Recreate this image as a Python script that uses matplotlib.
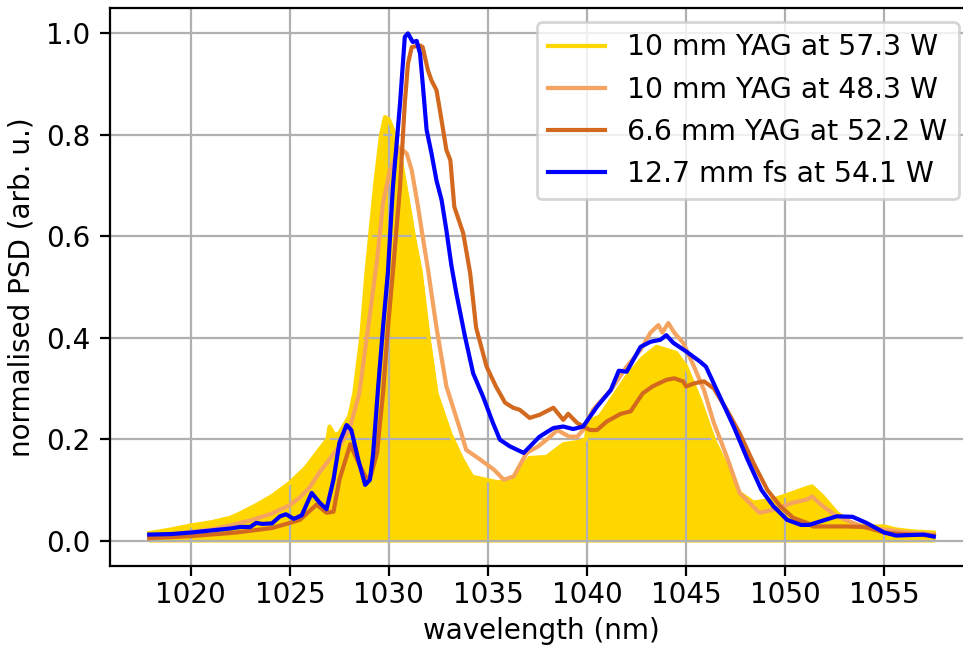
import matplotlib
matplotlib.use("Agg")
import matplotlib.pyplot as plt

# 10 mm YAG at 57.3 W
wl_yag10_573 = [1017.9, 1019, 1020, 1021, 1022, 1022.5, 1023.3, 1024.1, 1025.0, 1025.8,
                1026.5, 1026.9, 1027.0, 1027.25, 1027.5, 1028.0, 1028.25, 1028.6, 1028.87,
                1029.3, 1029.6, 1029.8, 1030.0, 1030.2, 1030.56, 1031.0, 1031.3, 1031.6,
                1032.0, 1032.4, 1033.1, 1033.7, 1034.2, 1034.9, 1035.5, 1036.2, 1036.6,
                1037.1, 1037.96, 1038.8, 1039.6, 1039.95, 1040.05, 1040.65, 1041.2, 1042.0,
                1042.8, 1043.5, 1044.0, 1044.5, 1045.0, 1045.7, 1046.4, 1047.05, 1047.7,
                1048.4, 1049.4, 1050.1, 1050.8, 1051.1, 1051.35, 1051.9, 1052.6, 1053.3,
                1054.0, 1055.0, 1055.6, 1056.5, 1057.5]
psd_yag10_573 = [0.015, 0.022, 0.03, 0.036, 0.045, 0.054, 0.07, 0.088, 0.114, 0.144,
                 0.18, 0.2, 0.225, 0.208, 0.212, 0.245, 0.29, 0.40, 0.53,
                 0.70, 0.80, 0.835, 0.83, 0.81, 0.76, 0.66, 0.59, 0.53,
                 0.40, 0.29, 0.21, 0.16, 0.126, 0.12, 0.115, 0.12, 0.14,
                 0.163, 0.165, 0.19, 0.195, 0.2, 0.235, 0.245, 0.277, 0.323,
                 0.36, 0.382, 0.376, 0.37, 0.343, 0.277, 0.199, 0.146, 0.094,
                 0.075, 0.081, 0.09, 0.10, 0.104, 0.107, 0.087, 0.055, 0.035,
                 0.028, 0.028, 0.022, 0.018, 0.016]

# 10 mm YAG at 48.3 W
wl_yag10_483 = [1017.9, 1019, 1020, 1021, 1022, 1023, 1024, 1025, 1025.5, 1026.0,
                1026.5, 1026.8, 1027.5, 1028.0, 1028.5, 1028.95, 1029.4, 1029.7, 1030.05,
                1030.46, 1030.6, 1030.9, 1031.15, 1031.47, 1031.7, 1031.97, 1032.4, 1032.9,
                1033.6, 1033.9, 1034.6, 1035.3, 1035.8, 1036.3, 1036.95, 1037.5, 1037.96,
                1038.5, 1039.1, 1039.5, 1039.8, 1040.3, 1041.2, 1042.0, 1042.7, 1043.2,
                1043.6, 1043.8, 1044.1, 1044.4, 1044.85, 1045.4, 1045.9, 1046.4, 1047.05,
                1047.7, 1048.7, 1049.4, 1050.4, 1051.1, 1051.35, 1051.9, 1052.6, 1054.0,
                1055.0, 1056.0, 1057.5]
psd_yag10_483 = [0.008, 0.012, 0.017, 0.022, 0.03, 0.04, 0.052, 0.07, 0.085, 0.105,
                 0.135, 0.15, 0.186, 0.218, 0.29, 0.42, 0.553, 0.665, 0.73,
                 0.77, 0.773, 0.763, 0.73, 0.658, 0.6, 0.535, 0.42, 0.304,
                 0.218, 0.179, 0.16, 0.14, 0.12, 0.127, 0.173, 0.185, 0.199,
                 0.218, 0.205, 0.205, 0.218, 0.258, 0.297, 0.343, 0.376, 0.41,
                 0.425, 0.41, 0.429, 0.41, 0.39, 0.343, 0.297, 0.232, 0.166,
                 0.094, 0.055, 0.061, 0.075, 0.081, 0.087, 0.068, 0.048, 0.026,
                 0.022, 0.017, 0.012]

# 6.6 mm YAG at 52.2 W
wl_yag66_522 = [1017.9, 1019, 1020, 1021, 1022, 1022.5, 1023.5, 1024.1, 1025.0, 1025.5,
                1026.35, 1026.85, 1027.2, 1027.5, 1028.05, 1028.5, 1028.9, 1029.1, 1029.4,
                1029.7, 1029.95, 1030.2, 1030.56, 1030.8, 1030.96, 1031.15, 1031.57, 1031.7,
                1031.97, 1032.15, 1032.4, 1032.6, 1032.9, 1033.1, 1033.3, 1033.75, 1034.1,
                1034.4, 1034.93, 1035.4, 1035.86, 1036.27, 1036.6, 1037.1, 1037.6, 1038.3,
                1038.8, 1039.05, 1039.5, 1040.15, 1040.5, 1041.0, 1041.7, 1042.2, 1042.8,
                1043.3, 1044.0, 1044.4, 1044.85, 1045.0, 1045.4, 1045.9, 1046.4, 1047.05,
                1047.7, 1048.4, 1049.1, 1049.75, 1050.4, 1051.1, 1051.4, 1053.1, 1054.0,
                1055.0, 1056.0, 1057.5]
psd_yag66_522 = [0.005, 0.007, 0.009, 0.012, 0.015, 0.017, 0.022, 0.025, 0.035, 0.041,
                 0.071, 0.055, 0.057, 0.12, 0.19, 0.15, 0.12, 0.13, 0.173,
                 0.29, 0.42, 0.53, 0.697, 0.862, 0.94, 0.973, 0.976, 0.973,
                 0.927, 0.907, 0.888, 0.842, 0.77, 0.75, 0.658, 0.606, 0.527,
                 0.42, 0.343, 0.304, 0.272, 0.262, 0.258, 0.242, 0.248, 0.262,
                 0.238, 0.25, 0.232, 0.218, 0.218, 0.235, 0.25, 0.255, 0.29,
                 0.304, 0.317, 0.32, 0.314, 0.304, 0.31, 0.314, 0.30, 0.258,
                 0.212, 0.153, 0.10, 0.068, 0.045, 0.035, 0.028, 0.028, 0.027,
                 0.016, 0.013, 0.01]

# 12.7 mm fs at 54.1 W
wl_fs127_541 = [1017.9, 1019, 1020, 1021, 1022, 1022.5, 1023.0, 1023.3, 1023.6, 1024.1,
                1024.5, 1024.8, 1025.2, 1025.6, 1026.1, 1026.5, 1026.85, 1027.2, 1027.5,
                1027.86, 1028.1, 1028.45, 1028.8, 1029.04, 1029.2, 1029.45, 1029.7, 1029.95,
                1030.2, 1030.56, 1030.8, 1030.96, 1031.2, 1031.4, 1031.57, 1031.72, 1031.9,
                1032.15, 1032.4, 1032.66, 1032.9, 1033.15, 1033.4, 1033.84, 1034.25, 1034.75,
                1035.25, 1035.6, 1036.1, 1036.8, 1037.6, 1038.3, 1038.8, 1039.3, 1039.8,
                1040.5, 1041.2, 1041.6, 1042.0, 1042.7, 1043.2, 1043.7, 1044.0, 1044.35,
                1045.0, 1045.7, 1046.0, 1046.7, 1047.4, 1048.1, 1048.8, 1049.4, 1050.1,
                1050.8, 1051.2, 1052.6, 1053.4, 1054.1, 1055.0, 1055.6, 1057.0, 1057.5]
psd_fs127_541 = [0.012, 0.013, 0.016, 0.02, 0.024, 0.027, 0.027, 0.035, 0.033, 0.034,
                 0.048, 0.052, 0.043, 0.05, 0.094, 0.075, 0.062, 0.12, 0.193,
                 0.228, 0.218, 0.16, 0.11, 0.12, 0.17, 0.30, 0.42, 0.53,
                 0.697, 0.862, 0.993, 1.0, 0.983, 0.985, 0.96, 0.894, 0.81,
                 0.763, 0.71, 0.671, 0.612, 0.543, 0.488, 0.402, 0.33, 0.284,
                 0.232, 0.199, 0.186, 0.173, 0.205, 0.222, 0.225, 0.22, 0.225,
                 0.264, 0.297, 0.335, 0.333, 0.382, 0.392, 0.396, 0.405, 0.39,
                 0.373, 0.353, 0.343, 0.284, 0.225, 0.16, 0.10, 0.068, 0.041,
                 0.031, 0.031, 0.048, 0.047, 0.035, 0.016, 0.01, 0.012, 0.008]

plt.rcParams['font.size'] = 10

fig = plt.figure(figsize=(4.815, 3.25), dpi=200)
ax = fig.add_axes([0.1142, 0.1292, 0.8962, 0.8585])

ax.fill_between(wl_yag10_573, psd_yag10_573, color='gold')
ax.plot(wl_yag10_573, psd_yag10_573, color='gold', lw=1.5,
        label='10 mm YAG at 57.3 W')
ax.plot(wl_yag10_483, psd_yag10_483, color='sandybrown', lw=1.5,
        label='10 mm YAG at 48.3 W')
ax.plot(wl_yag66_522, psd_yag66_522, color='chocolate', lw=1.5,
        label='6.6 mm YAG at 52.2 W')
ax.plot(wl_fs127_541, psd_fs127_541, color='blue', lw=1.5,
        label='12.7 mm fs at 54.1 W')

ax.grid(True)
ax.tick_params(axis='x', pad=1.8)
ax.set_xlabel('wavelength (nm)', labelpad=3)
ax.set_ylabel('normalised PSD (arb. u.)')
ax.legend(loc='upper right', fontsize=10.2)

fig.savefig('out.png', dpi=200)
